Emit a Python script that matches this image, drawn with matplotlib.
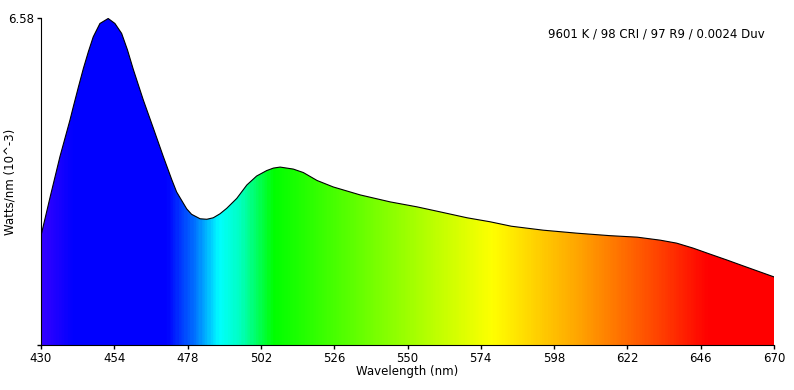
import numpy as np
import matplotlib
matplotlib.use("Agg")
import matplotlib.pyplot as plt
from matplotlib.colors import LinearSegmentedColormap

# spectral power distribution
wavelength = [430, 433, 436.2, 439.5, 440.6, 442.2, 443.9, 445.5, 447.1, 449.3,
              452.0, 454.2, 456.4, 458.3, 460.2, 461.9, 463.5, 466.8, 470.0,
              472.8, 474.4, 477.7, 479.3, 482.1, 484.3, 486.4, 488.6, 490.8,
              494.1, 497.4, 500.6, 503.9, 506.1, 508.3, 512.6, 515.9, 520.4,
              525.7, 534.5, 544.3, 553.1, 560.6, 569.5, 577, 584, 594.5, 605.5,
              616.3, 625.2, 632.7, 638.1, 643.5, 649, 654.6, 660, 670]
power = [2.20, 2.98, 3.79, 4.53, 4.80, 5.18, 5.57, 5.90, 6.20, 6.47,
         6.57, 6.47, 6.27, 5.94, 5.55, 5.23, 4.93, 4.36, 3.80,
         3.33, 3.08, 2.74, 2.63, 2.54, 2.53, 2.56, 2.64, 2.75,
         2.95, 3.22, 3.40, 3.51, 3.56, 3.58, 3.54, 3.47, 3.31,
         3.18, 3.02, 2.88, 2.78, 2.68, 2.56, 2.48, 2.39, 2.31, 2.25,
         2.20, 2.17, 2.11, 2.05, 1.95, 1.83, 1.71, 1.59, 1.37]

y_max = 6.58
x_ticks = [430, 454, 478, 502, 526, 550, 574, 598, 622, 646, 670]
info_text = "9601 K / 98 CRI / 97 R9 / 0.0024 Duv"

# rainbow colour stops (nm, colour)
stops = [(430, (0.20, 0.0, 1.0)), (440, (0.0, 0.0, 1.0)), (471, (0.0, 0.0, 1.0)),
         (480, (0.0, 0.45, 1.0)), (488, (0.0, 1.0, 1.0)), (495, (0.0, 1.0, 0.75)),
         (506, (0.0, 1.0, 0.0)), (545, (0.55, 1.0, 0.0)), (578, (1.0, 1.0, 0.0)),
         (606, (1.0, 0.65, 0.0)), (630, (1.0, 0.3, 0.0)), (649, (1.0, 0.0, 0.0)),
         (670, (1.0, 0.0, 0.0))]
cmap = LinearSegmentedColormap.from_list(
    "spec", [((w - 430) / 240, c) for w, c in stops])

fig = plt.figure(figsize=(7.94, 3.90), dpi=100)
ax = fig.add_axes([41 / 794, 45 / 390, 733 / 794, 327 / 390])

poly = ax.fill_between(wavelength, power, 0, color="none")
grad = np.linspace(0, 1, 600).reshape(1, -1)
im = ax.imshow(grad, cmap=cmap, aspect="auto", extent=[430, 670, 0, y_max],
               interpolation="bilinear")
path = poly.get_paths()[0]
im.set_clip_path(path, transform=ax.transData)
ax.plot(wavelength, power, color="black", lw=0.8)

ax.set_xlim(430, 670)
ax.set_ylim(0, y_max)
ax.set_xticks(x_ticks)
ax.set_xticklabels([str(t) for t in x_ticks])
ax.set_yticks([0, y_max])
ax.set_yticklabels(["", "6.58"])
ax.tick_params(labelsize=8.5, length=3, width=1, pad=2)
for s in ["top", "right"]:
    ax.spines[s].set_visible(False)

ax.set_xlabel("Wavelength (nm)", fontsize=8.5, labelpad=0)
ax.set_ylabel("Watts/nm (10^-3)", fontsize=8.5)
ax.yaxis.set_label_coords(-0.033, 0.5)
ax.text(0.84, 0.95, info_text, transform=ax.transAxes, fontsize=8.5,
        ha="center", va="center")

plt.savefig("out.png", dpi=100)
